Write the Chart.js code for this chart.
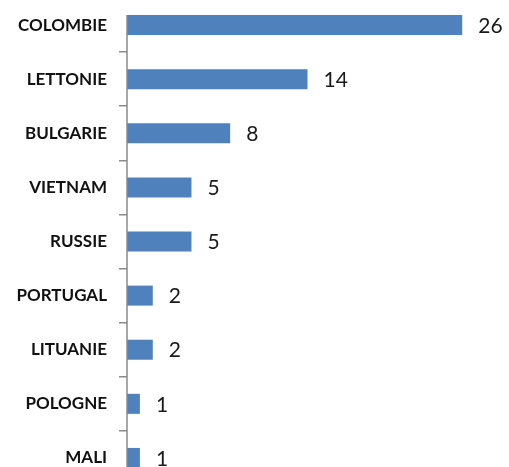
<!DOCTYPE html>
<html>
<head>
<meta charset="utf-8">
<script src="https://cdn.jsdelivr.net/npm/chart.js@4/dist/chart.umd.min.js"></script>
<style>
  html, body { margin: 0; padding: 0; background: #fff; overflow: hidden; }
  body { width: 509px; height: 467px; position: relative; }
  #chart { position: absolute; left: 0; top: -2px; }
</style>
</head>
<body>
<canvas id="chart" width="509" height="487"></canvas>
<script>
const countries = ['COLOMBIE', 'LETTONIE', 'BULGARIE', 'VIETNAM', 'RUSSIE', 'PORTUGAL', 'LITUANIE', 'POLOGNE', 'MALI'];
const counts = [26, 14, 8, 5, 5, 2, 2, 1, 1];

// valeurs écrites à droite des barres + axe vertical qui commence au haut de la 1re barre
const barLabels = {
  id: 'barLabels',
  afterDatasetsDraw(chart) {
    const ctx = chart.ctx;
    const meta = chart.getDatasetMeta(0);
    const area = chart.chartArea;
    ctx.save();
    const first = meta.data[0];
    ctx.strokeStyle = '#8a8a8a';
    ctx.lineWidth = 1.5;
    ctx.beginPath();
    ctx.moveTo(area.left, first.y - first.height / 2);
    ctx.lineTo(area.left, area.bottom);
    ctx.stroke();

    ctx.fillStyle = '#1a1a1a';
    ctx.font = '21px Lato';
    ctx.textAlign = 'left';
    ctx.textBaseline = 'middle';
    meta.data.forEach((bar, i) => {
      ctx.fillText(String(counts[i]), bar.x + 16, bar.y + 1);
    });
    ctx.restore();
  }
};

new Chart(document.getElementById('chart'), {
  type: 'bar',
  data: {
    labels: countries,
    datasets: [{
      data: counts,
      backgroundColor: '#4F81BD',
      barPercentage: 0.37,
      categoryPercentage: 1,
    }],
  },
  options: {
    indexAxis: 'y',
    responsive: false,
    animation: false,
    layout: { padding: { top: 0, right: 21, bottom: 0, left: 0 } },
    plugins: {
      legend: { display: false },
      tooltip: { enabled: false },
    },
    scales: {
      x: {
        display: false,
        min: 0,
        max: 28,
      },
      y: {
        afterFit: (scale) => {
          scale.width = 127;
          scale.paddingTop = 0;
          scale.paddingBottom = 0;
        },
        border: { display: false },
        grid: {
          offset: true,
          drawOnChartArea: false,
          drawTicks: true,
          tickLength: 8,
          color: '#8a8a8a',
          lineWidth: 1.5,
        },
        ticks: {
          color: '#111',
          padding: 12,
          font: { family: 'Lato', size: 17, weight: 'bold' },
        },
      },
    },
  },
  plugins: [barLabels],
});
</script>
</body>
</html>
